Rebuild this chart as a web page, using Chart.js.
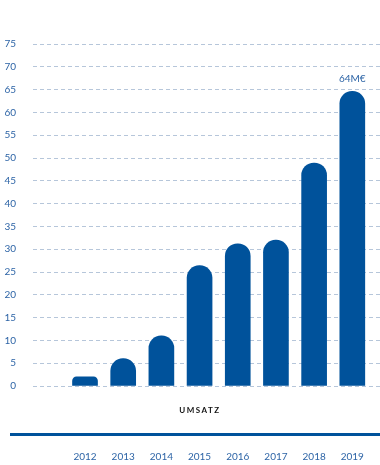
<!DOCTYPE html>
<html>
<head>
    <title>Umsatz</title>
    <script src="https://cdn.jsdelivr.net/npm/chart.js"></script>
    <style>
        html, body { margin: 0; padding: 0; background: #fff; overflow: hidden; }
        #umsatzChart { display: block; }
    </style>
</head>
<body>
    <canvas id="umsatzChart" width="380" height="465"></canvas>
    <script>
        // Daten
        const years = [2012, 2013, 2014, 2015, 2016, 2017, 2018, 2019];
        const umsatz = [2, 6, 11, 26.4, 31.2, 32, 48.9, 64.6];
        const barLabels = ['', '', '', '', '', '', '', '64M€'];
        const seriesTitle = 'UMSATZ';

        const blue = '#00529b';
        const textBlue = '#2d64a6';

        // Titel + Linie unter dem Diagramm, und Wertlabel ueber dem Balken
        const decoPlugin = {
            id: 'deco',
            afterDatasetsDraw(chart) {
                const ctx = chart.ctx;
                const area = chart.chartArea;
                const meta = chart.getDatasetMeta(0);
                ctx.save();
                ctx.fillStyle = textBlue;
                ctx.font = '10px Lato';
                ctx.textAlign = 'center';
                ctx.textBaseline = 'middle';
                meta.data.forEach((bar, i) => {
                    if (barLabels[i]) ctx.fillText(barLabels[i], bar.x, bar.y - 13);
                });

                ctx.fillStyle = '#111';
                ctx.font = 'bold 8px Lato';
                ctx.letterSpacing = '1.5px';
                ctx.fillText(seriesTitle, 200, area.bottom + 24);
                ctx.letterSpacing = '0px';

                ctx.strokeStyle = blue;
                ctx.lineWidth = 3;
                ctx.beginPath();
                ctx.moveTo(10, area.bottom + 48.5);
                ctx.lineTo(chart.width, area.bottom + 48.5);
                ctx.stroke();
                ctx.restore();
            }
        };

        new Chart(document.getElementById('umsatzChart'), {
            type: 'bar',
            data: {
                datasets: [{
                    data: years.map((y, i) => ({ x: y, y: umsatz[i] })),
                    backgroundColor: blue,
                    barThickness: 25,
                    borderRadius: { topLeft: 12.5, topRight: 12.5 },
                    borderSkipped: 'bottom'
                }]
            },
            options: {
                responsive: false,
                animation: false,
                devicePixelRatio: 1,
                layout: { padding: { top: 44, left: 0, right: 0, bottom: 0 } },
                plugins: { legend: { display: false }, tooltip: { enabled: false } },
                scales: {
                    x: {
                        type: 'linear',
                        offset: false,
                        min: 2010.638,
                        max: 2019.725,
                        afterBuildTicks: s => { s.ticks = years.map(v => ({ value: v })); },
                        // unsichtbare Tick-Striche schieben die Jahreszahlen nach unten
                        grid: {
                            drawOnChartArea: false,
                            drawTicks: true,
                            tickLength: 63,
                            tickColor: 'rgba(0,0,0,0)'
                        },
                        border: { display: false },
                        ticks: {
                            padding: 2,
                            color: textBlue,
                            font: { family: 'Lato', size: 10 },
                            callback: v => String(v)
                        }
                    },
                    y: {
                        min: 0,
                        max: 75,
                        afterFit: s => { s.width = 33; },
                        grid: {
                            color: '#b6c6da',
                            drawTicks: false,
                            lineWidth: 1
                        },
                        border: { display: false, dash: [4, 3] },
                        ticks: {
                            stepSize: 5,
                            padding: 17,
                            color: textBlue,
                            font: { family: 'Lato', size: 10 }
                        }
                    }
                }
            },
            plugins: [decoPlugin]
        });
    </script>
</body>
</html>
